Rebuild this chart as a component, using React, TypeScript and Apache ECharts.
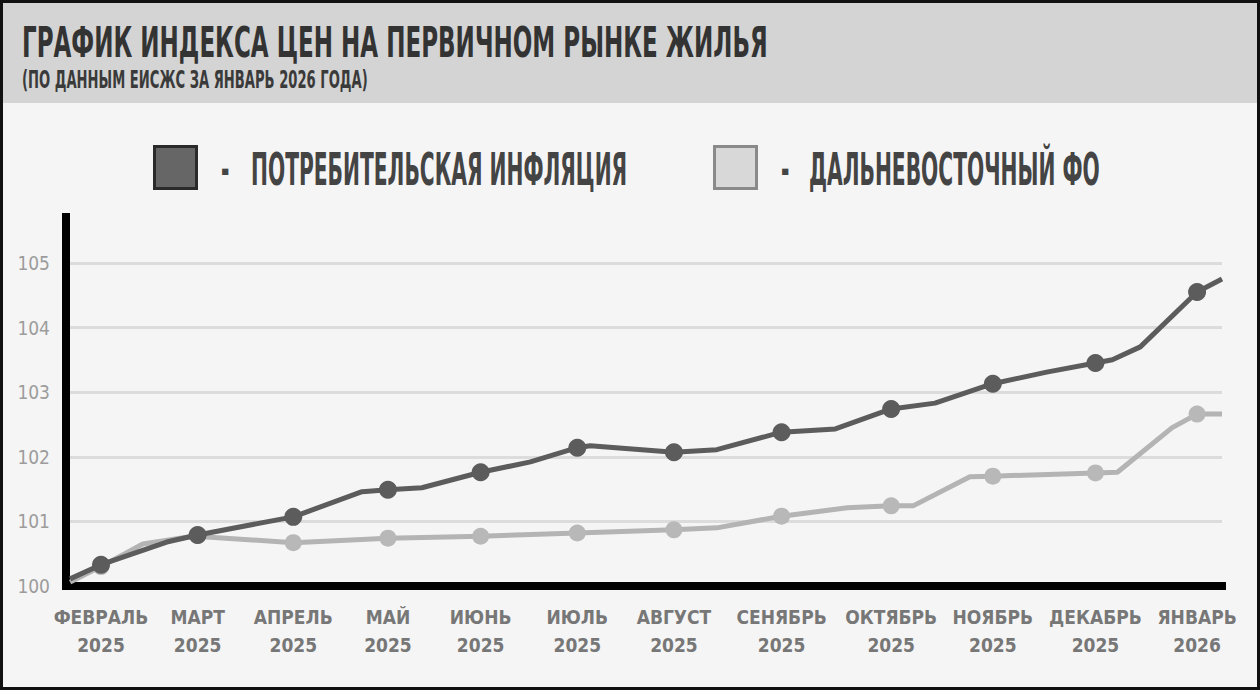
import React, { useEffect, useRef } from 'react';
import * as echarts from 'echarts';

// x — month position (Feb 2025 = 0 … Jan 2026 = 11), y — price index
const monthLabels = [
  'ФЕВРАЛЬ\n2025', 'МАРТ\n2025', 'АПРЕЛЬ\n2025', 'МАЙ\n2025', 'ИЮНЬ\n2025', 'ИЮЛЬ\n2025',
  'АВГУСТ\n2025', 'СЕНЯБРЬ\n2025', 'ОКТЯБРЬ\n2025', 'НОЯБРЬ\n2025', 'ДЕКАБРЬ\n2025', 'ЯНВАРЬ\n2026',
];
const monthPos = [0, 0.97, 1.93, 2.88, 3.81, 4.78, 5.75, 6.83, 7.93, 8.95, 9.98, 11];

const inflationMonthly = [100.33, 100.79, 101.07, 101.49, 101.76, 102.14, 102.07, 102.38, 102.74, 103.13, 103.45, 104.55];
const inflationBetween: [number, number][] = [
  [-0.31, 100.11], [0.66, 100.68], [2.62, 101.46], [3.22, 101.52], [4.31, 101.92], [4.91, 102.17],
  [6.18, 102.11], [7.37, 102.43], [8.37, 102.83], [9.49, 103.31], [10.15, 103.5], [10.43, 103.7], [11.25, 104.75],
];

const farEastMonthly = [100.3, 100.78, 100.67, 100.74, 100.77, 100.82, 100.87, 101.08, 101.24, 101.7, 101.75, 102.66];
const farEastBetween: [number, number][] = [
  [-0.31, 100.06], [0.42, 100.65], [1.06, 100.76], [6.18, 100.9], [7.49, 101.21], [8.15, 101.24],
  [8.72, 101.69], [10.2, 101.76], [10.75, 102.45], [11.25, 102.66],
];

const yTicks = [100, 101, 102, 103, 104, 105];

const seriesNames = ['ПОТРЕБИТЕЛЬСКАЯ ИНФЛЯЦИЯ', 'ДАЛЬНЕВОСТОЧНЫЙ ФО'];

const FONT = "'Liberation Sans Narrow', 'DejaVu Sans Condensed', 'Roboto', sans-serif";

const buildLine = (monthly: number[], between: [number, number][]) => {
  const pts = [
    ...monthly.map((v, i) => ({ value: [monthPos[i], v], symbol: 'circle' })),
    ...between.map((p) => ({ value: p, symbol: 'none' })),
  ];
  return pts.sort((a, b) => a.value[0] - b.value[0]);
};

const App: React.FC = () => {
  const chartRef = useRef<HTMLDivElement>(null);

  useEffect(() => {
    if (!chartRef.current) return;
    document.body.style.margin = '0';
    const chart = echarts.init(chartRef.current, undefined, { renderer: 'svg' });

    const option: echarts.EChartsOption = {
      animation: false,
      backgroundColor: '#f5f5f5',
      grid: { left: 66, right: 38, top: 217, bottom: 104 },
      xAxis: {
        type: 'value',
        min: -0.351,
        max: 11.25,
        splitLine: { show: false },
        axisTick: { show: false },
        axisLine: { show: true, onZero: false, lineStyle: { color: '#000', width: 8, cap: 'square' } },
        axisLabel: {
          customValues: monthPos,
          formatter: (v: number) => {
            const i = monthPos.findIndex((p) => Math.abs(p - v) < 1e-6);
            return i >= 0 ? monthLabels[i] : '';
          },
          color: '#777',
          fontFamily: FONT,
          fontWeight: 'bold',
          fontSize: 19,
          lineHeight: 28,
          margin: 17,
        },
      } as any,
      yAxis: {
        type: 'value',
        min: 100,
        max: 105.71,
        interval: 1,
        axisTick: { show: false },
        axisLine: { show: true, onZero: false, lineStyle: { color: '#000', width: 8, cap: 'square' } },
        splitLine: {
          show: true,
          showMinLine: false,
          showMaxLine: false,
          lineStyle: { color: '#dcdcdc', width: 3 },
        },
        axisLabel: {
          showMaxLabel: false,
          formatter: (v: number) => (yTicks.includes(v) ? String(v) : ''),
          color: '#9c9c9c',
          fontFamily: FONT,
          fontSize: 19,
          margin: 16,
          padding: [0, 0, 8, 0],
        },
      } as any,
      series: [
        {
          name: seriesNames[1],
          type: 'line',
          data: buildLine(farEastMonthly, farEastBetween) as any,
          symbolSize: 17,
          showAllSymbol: true,
          lineStyle: { color: '#b4b4b4', width: 5 },
          itemStyle: { color: '#b8b8b8' },
          z: 2,
        },
        {
          name: seriesNames[0],
          type: 'line',
          data: buildLine(inflationMonthly, inflationBetween) as any,
          symbolSize: 18,
          showAllSymbol: true,
          lineStyle: { color: '#5c5c5c', width: 5 },
          itemStyle: { color: '#5c5c5c' },
          z: 3,
        },
      ],
      graphic: [
        { type: 'rect', shape: { x: 0, y: 0, width: 1260, height: 103 }, style: { fill: '#d4d4d4' }, silent: true },
        {
          type: 'text', x: 22, y: 20, scaleY: 1.66,
          style: { text: 'ГРАФИК ИНДЕКСА ЦЕН НА ПЕРВИЧНОМ РЫНКЕ ЖИЛЬЯ', fill: '#333', font: `bold 25.6px ${FONT}`, verticalAlign: 'top' },
        },
        {
          type: 'text', x: 22, y: 67, scaleY: 1.69,
          style: { text: '(ПО ДАННЫМ ЕИСЖС ЗА ЯНВАРЬ 2026 ГОДА)', fill: '#3a3a3a', font: `bold 14.6px ${FONT}`, verticalAlign: 'top' },
        },
        // legend
        { type: 'rect', shape: { x: 154.5, y: 146.5, width: 42, height: 42 }, style: { fill: '#666', stroke: '#2a2a2a', lineWidth: 3 } },
        { type: 'rect', shape: { x: 714.5, y: 146.5, width: 42, height: 42 }, style: { fill: '#d8d8d8', stroke: '#8a8a8a', lineWidth: 3 } },
        {
          type: 'text', x: 221, y: 147, scaleY: 1.95,
          style: { text: '-', fill: '#444', font: `bold 22.5px ${FONT}`, verticalAlign: 'top' },
        },
        {
          type: 'text', x: 251, y: 147, scaleY: 1.95,
          style: { text: seriesNames[0], fill: '#444', font: `bold 22.5px ${FONT}`, verticalAlign: 'top' },
        },
        {
          type: 'text', x: 781, y: 147, scaleY: 1.95,
          style: { text: '-', fill: '#444', font: `bold 22.5px ${FONT}`, verticalAlign: 'top' },
        },
        {
          type: 'text', x: 809, y: 147, scaleY: 1.95,
          style: { text: seriesNames[1], fill: '#444', font: `bold 22.5px ${FONT}`, verticalAlign: 'top' },
        },
        // frame
        { type: 'rect', shape: { x: 1.5, y: 1.5, width: 1257, height: 687 }, style: { fill: 'none', stroke: '#111', lineWidth: 3 }, z: 100 },
      ],
    };

    chart.setOption(option);

    return () => {
      chart.dispose();
    };
  }, []);

  return <div ref={chartRef} style={{ width: '1260px', height: '690px' }} />;
};

export default App;
